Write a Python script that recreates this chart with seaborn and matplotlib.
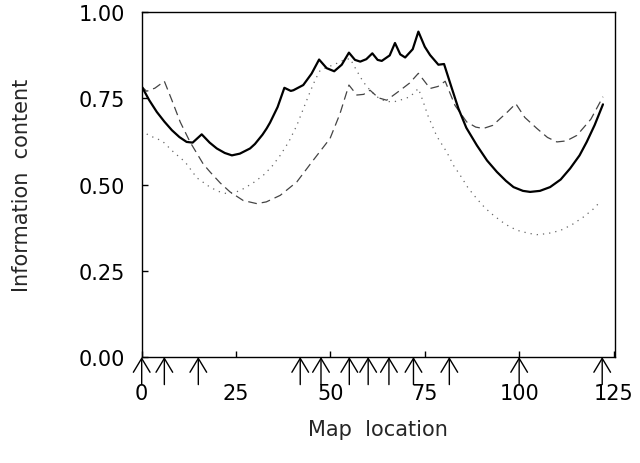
import numpy as np
import pandas as pd
import matplotlib
matplotlib.use("Agg")
import matplotlib.pyplot as plt
import seaborn as sns

# ---- data ----
solid_x = [0, 2, 4.0, 6, 8, 10, 11.9, 13.5, 15.9, 18, 19.9, 22, 23.9, 26, 28.7, 30, 32,
           33.1, 34, 36, 37.8, 39.5, 40.2, 42.8, 45, 47.0, 49, 51.0, 53, 54.9, 56.5, 57.9,
           59.5, 61.1, 62.5, 63.6, 65.7, 67.1, 68.5, 69.8, 71.8, 73.3, 75, 76.4, 78.6,
           80.1, 82, 83.9, 86, 88.8, 91.5, 94.1, 96.5, 98.5, 101, 102.9, 105.5, 108.2,
           111, 113.5, 116, 117.9, 120, 122.2]
solid_y = [0.785, 0.745, 0.711, 0.683, 0.658, 0.638, 0.624, 0.622, 0.646, 0.622, 0.605,
           0.592, 0.585, 0.590, 0.605, 0.618, 0.645, 0.663, 0.680, 0.725, 0.781, 0.772,
           0.774, 0.789, 0.822, 0.863, 0.838, 0.829, 0.848, 0.883, 0.862, 0.857, 0.864,
           0.881, 0.862, 0.859, 0.875, 0.911, 0.878, 0.869, 0.893, 0.944, 0.900, 0.876,
           0.848, 0.850, 0.785, 0.721, 0.665, 0.614, 0.570, 0.537, 0.511, 0.493, 0.482,
           0.479, 0.482, 0.493, 0.515, 0.547, 0.585, 0.624, 0.673, 0.733]

dashed_x = [0, 1.3, 3.5, 6.0, 8, 10.2, 12.8, 16.3, 18.1, 20.8, 23.4, 26.9, 30.5, 33, 36.7,
            41.1, 45.1, 49.9, 52.5, 54.9, 57.0, 58.8, 60.5, 62.7, 64.9, 68.5, 71, 73.3,
            76.4, 78.5, 80.4, 83, 86.1, 88.5, 90.5, 93, 95.0, 97, 99.1, 101.5, 104.7,
            107.5, 110.0, 112.5, 115.3, 119, 122.2]
dashed_y = [0.785, 0.771, 0.780, 0.800, 0.745, 0.682, 0.624, 0.560, 0.537, 0.505, 0.479,
            0.454, 0.445, 0.450, 0.469, 0.508, 0.566, 0.634, 0.705, 0.789, 0.760, 0.762,
            0.774, 0.752, 0.745, 0.774, 0.795, 0.823, 0.779, 0.785, 0.800, 0.730, 0.682,
            0.667, 0.663, 0.672, 0.692, 0.712, 0.735, 0.695, 0.663, 0.637, 0.624, 0.627,
            0.643, 0.690, 0.755]

dotted_x = [0, 2, 4, 5.7, 8.4, 11.5, 14.6, 18.2, 20.5, 22.5, 24.5, 26.9, 29.5, 32.2, 34.5,
            36.7, 39, 41.1, 43, 44.6, 46, 47.3, 49.5, 51.7, 53.2, 55.2, 57, 58.7, 60.5,
            62.3, 64.5, 66.7, 69, 71.1, 73.3, 74.6, 75.8, 78.2, 80.8, 82.6, 84.4, 86.5,
            88.8, 91, 93.2, 95.5, 97.6, 100, 102.5, 104.7, 107.5, 110.9, 114, 117.0,
            119.5, 121.7]
dotted_y = [0.658, 0.642, 0.634, 0.624, 0.595, 0.566, 0.520, 0.492, 0.480, 0.474, 0.476,
            0.488, 0.505, 0.527, 0.553, 0.585, 0.625, 0.672, 0.725, 0.769, 0.805, 0.832,
            0.842, 0.852, 0.860, 0.866, 0.830, 0.798, 0.774, 0.755, 0.742, 0.740, 0.747,
            0.755, 0.779, 0.740, 0.701, 0.640, 0.595, 0.556, 0.527, 0.490, 0.459, 0.432,
            0.411, 0.392, 0.377, 0.366, 0.359, 0.355, 0.358, 0.367, 0.384, 0.406, 0.428,
            0.453]

marker_locations = [0, 6, 15, 42, 47.5, 55, 60, 65.5, 72, 81.5, 100, 122]

x_ticks = [0, 25, 50, 75, 100, 125]
x_tick_labels = ["0", "25", "50", "75", "100", "125"]
y_ticks = [0.0, 0.25, 0.5, 0.75, 1.0]
y_tick_labels = ["0.00", "0.25", "0.50", "0.75", "1.00"]

# ---- plot ----
sns.set_style("white")
plt.rcParams['font.family'] = ['DejaVu Sans']

fig = plt.figure(figsize=(6.4, 4.64), dpi=100)
ax = fig.add_axes([0.2214, 0.2284, 0.7396, 0.7429])

sns.lineplot(x=dotted_x, y=dotted_y, ax=ax, color="#666666", lw=0.9,
             sort=False, estimator=None)
ax.lines[-1].set_dashes((1, 4))
sns.lineplot(x=dashed_x, y=dashed_y, ax=ax, color="#444444", lw=0.9,
             sort=False, estimator=None)
ax.lines[-1].set_dashes((7, 4))
sns.lineplot(x=solid_x, y=solid_y, ax=ax, color="black", lw=1.6,
             sort=False, estimator=None)

ax.set_xlim(0, 125.4)
ax.set_ylim(0, 1.0)

ax.set_xticks(x_ticks)
ax.set_xticklabels(x_tick_labels)
ax.set_yticks(y_ticks)
ax.set_yticklabels(y_tick_labels)

ax.tick_params(axis="both", direction="in", length=4, width=1.0, color="black",
               labelsize=15, labelcolor="black", top=False, right=False,
               bottom=True, left=True)
ax.tick_params(axis="x", pad=19)
ax.tick_params(axis="y", pad=12)

for s in ax.spines.values():
    s.set_visible(True)
    s.set_color("black")
    s.set_linewidth(1.0)

for m in marker_locations:
    ax.annotate("", xy=(m, 0.0), xytext=(m, -0.08),
                xycoords="data", textcoords="data",
                arrowprops=dict(arrowstyle="->,head_length=0.5,head_width=0.3",
                                lw=1.0, color="black",
                                mutation_scale=20, shrinkA=0, shrinkB=0),
                annotation_clip=False)

ax.set_xlabel("Map  location", fontsize=15)
ax.set_ylabel("Information  content", fontsize=15)
ax.xaxis.set_label_coords(0.5, -0.18)
ax.yaxis.set_label_coords(-0.232, 0.5)

fig.savefig("out.png", dpi=100)
